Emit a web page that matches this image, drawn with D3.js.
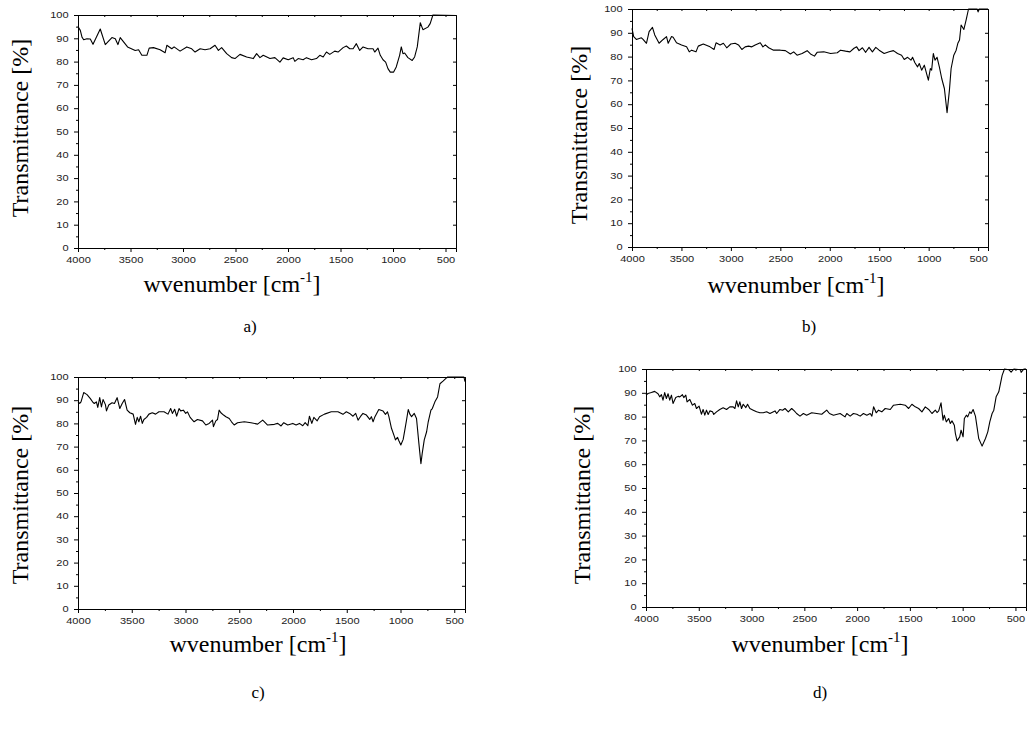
<!DOCTYPE html>
<html><head><meta charset="utf-8">
<script src="https://cdn.jsdelivr.net/npm/d3@7"></script>
<style>body{margin:0;background:#fff}svg{display:block}</style>
</head><body><svg id="chart" width="1028" height="731"></svg>
<script>
// ---- tick labels ----
const xTickValues = [4000, 3500, 3000, 2500, 2000, 1500, 1000, 500];
const yTickValues = [0, 10, 20, 30, 40, 50, 60, 70, 80, 90, 100];
const xTitle = "wvenumber [cm";
const xTitleSup = "-1";
const yTitle = "Transmittance [%]";
const panelLabels = ["a)", "b)", "c)", "d)"];

// ---- series a ----
const waveA = [4000,3978,3962,3946,3915,3883,3857,3788,3740,3677,3645,3620,3598,3528,3455,3423,3392,3344,3322,3281,3218,3170,3154,3107,3085,3028,2964,2917,2885,2837,2790,2742,2695,2663,2632,2584,2537,2505,2457,2394,2331,2299,2267,2236,2172,2125,2077,2046,1998,1951,1935,1903,1856,1824,1776,1729,1697,1665,1634,1602,1555,1523,1475,1444,1412,1380,1349,1317,1285,1238,1190,1174,1143,1121,1095,1070,1048,1026,994,969,937,921,905,889,858,817,794,769,740,715,668,646,620,400];
const transA = [95.1,93.4,90.5,89.4,89.8,89.7,87.4,94.0,87.3,90.3,89.8,87.3,90.3,86.3,84.8,85.1,82.7,82.7,85.8,86.0,85.1,83.8,87.0,85.5,86.3,84.5,86.3,85.5,84.1,85.5,85.1,85.5,87.0,84.8,86.0,83.4,81.7,81.3,83.1,82.0,81.3,83.4,81.7,82.7,81.3,81.7,79.8,81.6,80.8,81.7,80.1,81.3,80.8,81.7,80.8,81.3,82.7,82.0,84.1,83.1,84.5,84.1,86.0,86.7,85.5,85.5,87.7,84.8,86.3,85.5,85.5,84.1,85.8,82.7,80.8,79.8,77.0,75.5,75.5,77.7,82.7,86.3,83.4,83.7,81.7,80.5,82.0,86.3,96.7,93.7,94.8,96.3,100,99.8];

// ---- series b ----
const waveB = [4000,3983,3956,3905,3888,3854,3827,3793,3770,3726,3685,3651,3634,3600,3584,3550,3499,3448,3421,3397,3353,3330,3279,3211,3170,3150,3109,3076,3042,3001,2957,2923,2889,2856,2822,2788,2754,2703,2676,2652,2618,2568,2500,2449,2398,2365,2331,2280,2229,2195,2155,2128,2060,1992,1924,1891,1840,1796,1755,1728,1704,1670,1637,1603,1569,1535,1501,1450,1400,1356,1315,1274,1247,1213,1179,1163,1139,1112,1095,1071,1044,1017,1003,983,970,953,936,915,892,868,841,814,790,773,746,722,705,688,672,644,621,597,510,500,490,400];
const transB = [91.9,88.4,87.2,87.9,87.2,85.6,90.5,92.3,89.1,85.6,87.2,88.4,85.6,88.4,88.1,85.8,84.9,84.1,82.0,82.7,82.0,84.4,85.3,84.1,83.0,85.8,84.9,85.6,83.7,85.3,85.6,84.9,83.0,84.1,84.4,84.1,84.9,85.8,84.1,84.9,83.7,82.7,82.7,82.5,81.1,82.0,80.6,81.3,82.5,81.1,80.2,81.8,82.0,81.3,81.6,82.7,82.3,82.0,83.5,84.1,82.5,83.7,81.8,83.9,82.0,83.9,82.7,81.3,82.0,82.5,81.3,80.6,78.8,79.7,78.5,79.7,77.4,75.7,77.1,74.3,76.4,72.2,70.1,75.0,74.3,81.3,78.5,79.7,75.7,70.8,66.6,56.4,65.9,75.0,80.6,82.7,85.6,87.0,93.3,91.4,95.4,100,100,98.8,100,100];

// ---- series c ----
const waveC = [4000,3984,3972,3947,3916,3885,3860,3848,3829,3816,3798,3782,3767,3745,3735,3714,3683,3661,3636,3611,3589,3567,3543,3518,3487,3465,3449,3434,3418,3402,3387,3362,3340,3309,3278,3247,3200,3163,3138,3122,3101,3082,3060,3045,3020,2998,2982,2957,2920,2889,2842,2811,2780,2749,2740,2718,2702,2687,2671,2646,2624,2593,2572,2547,2516,2453,2391,2329,2282,2236,2173,2142,2111,2086,2049,2002,1971,1940,1909,1887,1862,1847,1825,1806,1775,1753,1707,1644,1582,1535,1504,1473,1442,1417,1395,1370,1349,1317,1286,1271,1255,1240,1202,1162,1140,1121,1109,1084,1059,1047,1028,1016,997,975,960,944,928,913,897,872,851,829,810,798,779,757,742,717,704,680,655,633,602,570,561,410,400];
const transC = [89.3,88.6,89.3,93.3,92.4,90.7,89.0,88.6,89.3,86.9,91.1,87.1,90.3,88.1,85.4,87.9,88.9,88.6,91.1,86.4,88.6,90.3,85.7,84.6,84.0,79.6,82.6,80.7,83.1,80.0,81.7,82.6,84.0,84.6,84.0,85.0,85.0,84.0,86.4,84.3,86.1,83.1,86.4,85.4,85.7,84.3,85.0,82.6,80.7,81.7,81.1,79.3,80.0,81.4,78.6,81.1,81.7,85.7,84.6,83.6,82.9,82.1,80.7,79.3,80.3,80.7,80.3,79.7,81.4,79.3,79.6,80.0,78.9,80.3,79.3,80.0,79.3,80.0,79.0,80.3,79.0,83.1,80.0,82.6,81.1,82.9,84.0,85.0,85.0,83.9,85.0,84.3,83.1,84.3,81.4,83.1,84.3,83.6,81.7,82.9,80.7,82.6,86.0,85.3,83.9,85.0,83.1,77.9,74.6,72.9,74.0,72.6,70.7,73.1,77.1,81.4,86.0,84.0,82.9,84.3,82.1,71.4,62.6,67.1,72.9,76.4,80.7,85.7,86.4,89.3,91.4,97.1,98.3,99.7,100,100,98];

// ---- series d ----
const waveD = [4000,3981,3949,3918,3886,3870,3854,3839,3823,3807,3791,3775,3759,3744,3718,3696,3680,3655,3642,3623,3611,3585,3560,3538,3522,3497,3475,3459,3443,3427,3411,3395,3370,3358,3332,3301,3269,3237,3206,3174,3158,3142,3126,3111,3095,3079,3054,3038,3016,2984,2952,2921,2889,2857,2826,2778,2762,2731,2706,2683,2652,2620,2595,2573,2541,2509,2478,2430,2383,2335,2288,2262,2224,2161,2114,2098,2066,2035,2003,1971,1940,1908,1876,1860,1844,1819,1797,1766,1734,1686,1655,1591,1544,1512,1481,1449,1417,1386,1354,1322,1291,1259,1243,1227,1205,1186,1174,1155,1133,1117,1101,1079,1069,1053,1028,1015,996,984,965,952,933,920,901,879,864,848,816,784,762,743,721,705,683,658,642,626,604,563,541,515,452,446,420,400];
const transD = [89.0,89.7,90.1,90.6,89.6,88.3,89.2,86.9,90.1,87.6,89.6,86.9,89.0,85.5,88.0,88.5,88.3,89.2,88.0,89.0,86.2,87.2,84.8,85.5,83.4,84.4,81.0,83.0,80.6,82.7,80.9,82.4,82.0,80.9,82.0,83.0,83.7,83.0,84.1,84.1,83.4,86.6,84.1,86.2,83.4,85.2,83.8,85.2,83.4,82.7,82.0,81.6,81.6,82.0,81.3,82.4,81.3,83.0,82.7,83.4,82.0,83.4,82.4,81.3,80.2,81.3,80.6,81.6,81.3,81.0,82.7,81.3,80.6,81.3,79.9,81.3,80.2,81.3,81.0,80.2,81.3,80.6,81.3,80.2,84.1,81.6,82.7,82.0,83.4,83.0,84.8,85.2,84.8,83.4,85.2,84.1,83.4,82.0,84.1,83.0,81.3,82.7,81.7,82.4,85.8,78.5,80.6,77.8,79.2,77.1,78.2,76.4,72.9,69.8,71.5,74.3,71.5,79.2,80.6,79.9,82.0,81.3,83.0,80.2,75.7,70.8,67.6,70.8,73.6,77.8,81.3,82.7,88.3,90.4,93.9,97.3,100,99.7,98.7,100,99.7,98.6,100,100];

const seriesWave = [waveA, waveB, waveC, waveD];
const seriesTrans = [transA, transB, transC, transD];

// ---- layout (pixels) ----
const layouts = [
  {left: 78,  right: 456,  top: 15,  bottom: 248, yT: [28, 128],  xT: [232, 292], lab: [250, 332]},
  {left: 632, right: 988,  top: 9,   bottom: 247, yT: [587, 135], xT: [796, 293], lab: [809, 332]},
  {left: 78,  right: 465,  top: 377, bottom: 609, yT: [28, 495],  xT: [258, 652], lab: [258, 698]},
  {left: 646, right: 1026, top: 369, bottom: 607, yT: [590, 495], xT: [820, 652], lab: [820, 698]}
];

const svg = d3.select("#chart");
const tickFont = "'Liberation Sans', Arial, sans-serif";
const serif = "'Liberation Serif', 'Times New Roman', serif";
const SX = 1.3;

layouts.forEach((L, i) => {
  const x = d3.scaleLinear().domain([4000, 400]).range([L.left, L.right]);
  const y = d3.scaleLinear().domain([0, 100]).range([L.bottom, L.top]);
  const g = svg.append("g");

  const xMinor = d3.range(3750, 400, -500);
  const yMinor = d3.range(5, 100, 10);
  const xAll = d3.range(4000, 399, -250);

  // bottom axis major
  const gb = g.append("g").attr("transform", `translate(0,${L.bottom})`)
    .call(d3.axisBottom(x).tickValues(xTickValues).tickSize(4).tickPadding(5).tickFormat(d3.format("d")));
  gb.selectAll(".tick text").attr("transform", `scale(${SX},1)`);
  g.append("g").attr("transform", `translate(0,${L.bottom})`)
    .call(d3.axisBottom(x).tickValues(xMinor).tickSize(2).tickFormat(""))
    .select(".domain").remove();

  // left axis major
  const gl = g.append("g").attr("transform", `translate(${L.left},0)`)
    .call(d3.axisLeft(y).tickValues(yTickValues).tickSize(4).tickPadding(5).tickFormat(d3.format("d")));
  gl.selectAll(".tick text").attr("x", -9.4 / SX).attr("transform", `scale(${SX},1)`);
  g.append("g").attr("transform", `translate(${L.left},0)`)
    .call(d3.axisLeft(y).tickValues(yMinor).tickSize(2).tickFormat(""))
    .select(".domain").remove();

  // top axis (inward ticks)
  g.append("g").attr("transform", `translate(0,${L.top})`)
    .call(d3.axisTop(x).tickValues(xAll).tickSize(-2).tickFormat(""));
  // right axis (inward ticks)
  g.append("g").attr("transform", `translate(${L.right},0)`)
    .call(d3.axisRight(y).tickValues(yTickValues).tickSize(-3).tickFormat(""));

  g.selectAll(".tick text").attr("font-family", tickFont).attr("font-size", 8.5).attr("fill", "#222");
  g.selectAll(".domain, .tick line").attr("stroke", "#000");

  // data line
  const pts = d3.zip(seriesWave[i], seriesTrans[i]);
  g.append("path").datum(pts)
    .attr("fill", "none").attr("stroke", "#000").attr("stroke-width", 1.1)
    .attr("stroke-linejoin", "round")
    .attr("d", d3.line().x(d => x(d[0])).y(d => y(d[1])));

  // y title
  g.append("text")
    .attr("transform", `translate(${L.yT[0]},${L.yT[1]}) rotate(-90)`)
    .attr("text-anchor", "middle").attr("font-family", serif).attr("font-size", 24)
    .text(yTitle);

  // x title with superscript
  const xt = g.append("text").attr("x", L.xT[0]).attr("y", L.xT[1])
    .attr("text-anchor", "middle").attr("font-family", serif).attr("font-size", 24);
  xt.append("tspan").text(xTitle);
  xt.append("tspan").attr("font-size", 15).attr("dy", -10).text(xTitleSup);
  xt.append("tspan").attr("dy", 10).text("]");

  // panel label
  g.append("text").attr("x", L.lab[0]).attr("y", L.lab[1])
    .attr("text-anchor", "middle").attr("font-family", serif).attr("font-size", 17)
    .text(panelLabels[i]);
});
</script></body></html>
